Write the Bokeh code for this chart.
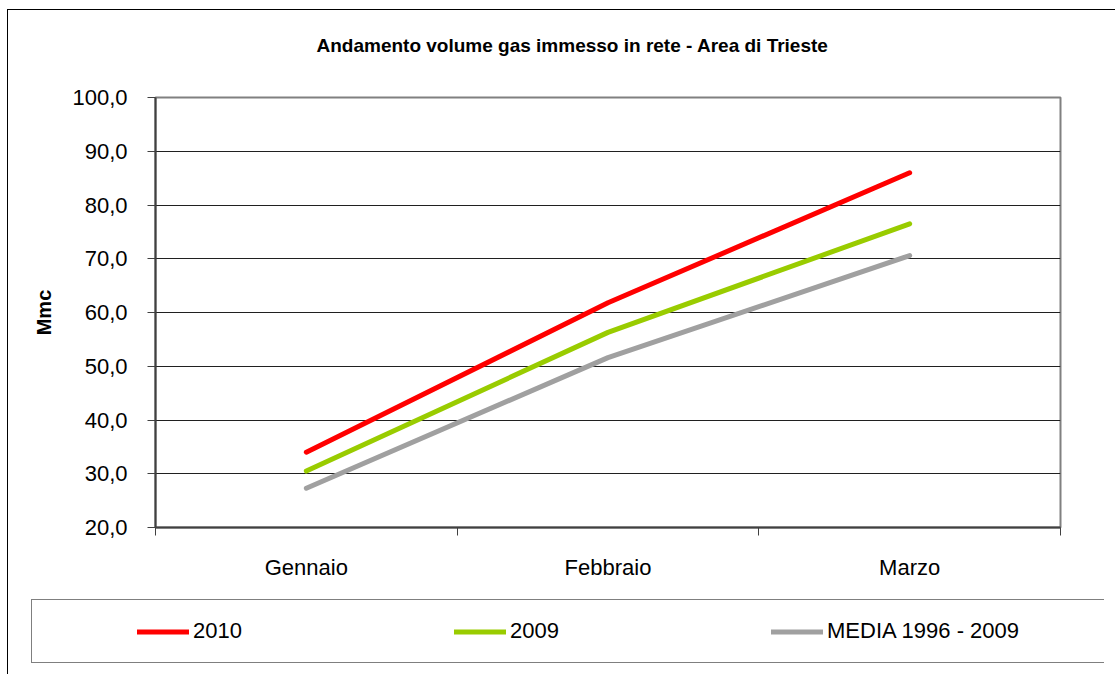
from bokeh.plotting import figure
from bokeh.layouts import column
from bokeh.models import (FixedTicker, CustomJSTickFormatter, Legend, LegendItem,
                          LinearAxis, Range1d, ColumnDataSource, Title, Grid)
from bokeh.embed import file_html
from bokeh.resources import INLINE

# ---- data ----
months = ["Gennaio", "Febbraio", "Marzo"]
y2010 = [34.0, 61.8, 86.0]
y2009 = [30.5, 56.3, 76.5]
media = [27.3, 51.6, 70.6]
series_names = ["2010", "2009", "MEDIA 1996 - 2009"]
series_colors = ["#FF0000", "#99CC00", "#A0A0A0"]
yticks = [20, 30, 40, 50, 60, 70, 80, 90, 100]
title_text = "Andamento volume gas immesso in rete - Area di Trieste"
ylabel = "Mmc"

FONT = "Liberation Sans"

xpos = [i + 0.5 for i in range(len(months))]
src = ColumnDataSource(dict(x=xpos, y2010=y2010, y2009=y2009, media=media))
keys = ["y2010", "y2009", "media"]

# ---------------- main chart ----------------
p = figure(width=1107, height=585, output_backend="svg", toolbar_location=None,
           x_range=Range1d(0, len(months)), y_range=Range1d(yticks[0], yticks[-1]),
           x_axis_type=None, y_axis_type=None,
           min_border_left=147, min_border_right=55, min_border_top=87,
           min_border_bottom=68)

# trailing blank line keeps the title well above the plot area
t = Title(text=title_text + "\n ", align="left", offset=161, vertical_align="top",
          text_font=FONT, text_font_size="19px", text_font_style="bold",
          text_color="black")
if "standoff" in Title.properties():
    t.standoff = 38
p.title = t

p.outline_line_color = "#808080"
p.outline_line_width = 2
p.background_fill_color = "white"
p.border_fill_color = "white"

yax = LinearAxis(ticker=FixedTicker(ticks=yticks, minor_ticks=[]),
                 formatter=CustomJSTickFormatter(code="return tick.toFixed(1).replace('.', ',');"))
yax.axis_label = ylabel
yax.axis_label_text_font = FONT
yax.axis_label_text_font_style = "bold"
yax.axis_label_text_font_size = "20px"
yax.axis_label_text_color = "black"
yax.axis_label_standoff = 14
yax.major_label_text_font = FONT
yax.major_label_text_font_size = "22px"
yax.major_label_text_color = "black"
yax.major_label_standoff = 20
yax.major_tick_out = 8
yax.major_tick_in = 0
yax.major_tick_line_color = "#404040"
yax.axis_line_color = "#404040"
yax.axis_line_width = 2
p.add_layout(yax, "left")

xax = LinearAxis(ticker=FixedTicker(ticks=xpos, minor_ticks=list(range(len(months) + 1))))
xax.major_label_overrides = {x: m for x, m in zip(xpos, months)}
xax.major_label_text_font = FONT
xax.major_label_text_font_size = "22px"
xax.major_label_text_color = "black"
xax.major_tick_out = 0
xax.major_tick_in = 0
xax.minor_tick_out = 8
xax.minor_tick_in = 0
xax.minor_tick_line_color = "#404040"
xax.axis_line_color = "#404040"
xax.axis_line_width = 2
xax.major_label_standoff = 19
p.add_layout(xax, "below")

p.add_layout(Grid(dimension=1, ticker=yax.ticker, grid_line_color="#202020",
                  grid_line_width=1))

for k, c in zip(keys, series_colors):
    p.line("x", k, source=src, line_color=c, line_width=5,
           line_cap="round", line_join="round")

# ---------------- legend strip ----------------
p2 = figure(width=1107, height=79, output_backend="svg", toolbar_location=None,
            x_range=p.x_range, y_range=p.y_range,
            x_axis_type=None, y_axis_type=None,
            min_border_left=22, min_border_right=11, min_border_top=4,
            min_border_bottom=11)
p2.xgrid.visible = False
p2.ygrid.visible = False
p2.outline_line_color = None
p2.background_fill_color = "white"
p2.border_fill_color = "white"

for fig in (p, p2):
    if "frame_align" in fig.properties():
        fig.frame_align = False

items = []
for k, c, name in zip(keys, series_colors, series_names):
    r = p2.line("x", k, source=src, line_color=c, line_width=5,
                line_cap="round", line_join="round", visible=False)
    items.append(LegendItem(label=name, renderers=[r]))

legend = Legend(items=items, orientation="horizontal", location=(1, 0),
                title=" ", title_location="left", title_standoff=76,
                title_text_font_size="10px",
                label_text_font=FONT, label_text_font_size="22px",
                label_text_color="black",
                glyph_width=52, glyph_height=25, label_height=25,
                label_standoff=4, label_width=261, spacing=0,
                padding=18, margin=0,
                border_line_color="black", border_line_width=1,
                background_fill_alpha=1.0,
                inactive_fill_alpha=0.0)
p2.add_layout(legend, "center")

layout = column(p, p2, spacing=0,
                styles={"margin-left": "7px", "margin-top": "9px",
                        "border-left": "1px solid black",
                        "border-top": "1px solid black"})

open("out.html", "w").write(file_html(layout, INLINE))
